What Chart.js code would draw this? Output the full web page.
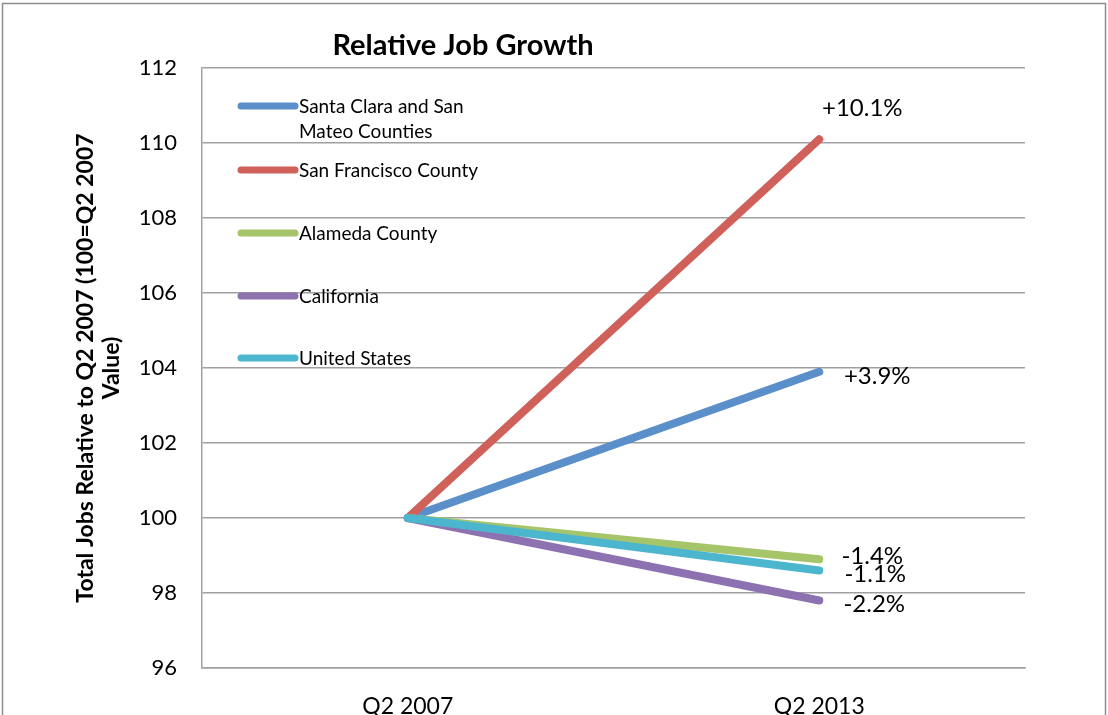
<!DOCTYPE html>
<html>
<head>
<meta charset="utf-8">
<script src="https://cdn.jsdelivr.net/npm/chart.js@4.4.1/dist/chart.umd.min.js"></script>
<style>
  html, body { margin: 0; padding: 0; background: #fff; }
  canvas { display: block; }
</style>
</head>
<body>
<canvas id="grafico" width="1108" height="715"></canvas>
<script>
const periodos = ['Q2 2007', 'Q2 2013'];
const nomesSeries = [['Santa Clara and San', 'Mateo Counties'], 'San Francisco County', 'Alameda County', 'California', 'United States'];
const santaClara = [100, 103.9];
const sanFrancisco = [100, 110.1];
const alameda = [100, 98.9];
const california = [100, 97.8];
const estadosUnidos = [100, 98.6];
const rotulosFinais = ['+3.9%', '+10.1%', '-1.4%', '-2.2%', '-1.1%'];
const cores = ['#5b8fc9', '#d0605a', '#a6c46a', '#8c72b0', '#4db6cf'];

const FONTE = 'Lato, "Open Sans", sans-serif';

// deslocamento dos rótulos em relação ao último ponto
const desloc = [[58, 5], [43, -31], [53, -3], [55, 4], [56, 4]];
const legendaY = [106, 170, 233, 296, 358];

const extras = {
  id: 'extras',
  afterDatasetsDraw(chart) {
    const c = chart.ctx;
    c.save();
    // rótulos finais
    c.font = '24px ' + FONTE;
    c.fillStyle = '#000';
    c.textAlign = 'center';
    c.textBaseline = 'middle';
    chart.data.datasets.forEach((ds, i) => {
      const pt = chart.getDatasetMeta(i).data[1];
      c.fillText(rotulosFinais[i], pt.x + desloc[i][0], pt.y + desloc[i][1]);
    });
    // legenda
    c.textAlign = 'left';
    c.font = '19px ' + FONTE;
    c.lineCap = 'round';
    c.lineWidth = 7;
    chart.data.datasets.forEach((ds, i) => {
      const y = legendaY[i];
      c.strokeStyle = ds.borderColor;
      c.beginPath();
      c.moveTo(241, y);
      c.lineTo(295, y);
      c.stroke();
      const nome = nomesSeries[i];
      if (Array.isArray(nome)) {
        nome.forEach((t, k) => c.fillText(t, 299, y + 1 + k * 25));
      } else {
        c.fillText(nome, 299, y + 1);
      }
    });
    // título
    c.font = 'bold 29px ' + FONTE;
    c.textAlign = 'center';
    c.fillText('Relative Job Growth', 463, 46);
    // moldura
    c.strokeStyle = '#8c8c8c';
    c.lineWidth = 1.5;
    c.strokeRect(2.5, 3.5, 1103, 740);
    c.restore();
  }
};

const series = [santaClara, sanFrancisco, alameda, california, estadosUnidos];

new Chart(document.getElementById('grafico'), {
  type: 'line',
  data: {
    labels: periodos,
    datasets: series.map((valores, i) => ({
      label: Array.isArray(nomesSeries[i]) ? nomesSeries[i].join(' ') : nomesSeries[i],
      data: valores,
      borderColor: cores[i],
      backgroundColor: cores[i],
      borderWidth: 8,
      borderCapStyle: 'round',
      pointRadius: 0,
      tension: 0,
      order: [4, 3, 2, 1, 0][i]
    }))
  },
  options: {
    responsive: false,
    animation: false,
    devicePixelRatio: 1,
    layout: { padding: { left: 72, top: 68, right: 83, bottom: 0 } },
    plugins: { legend: { display: false }, title: { display: false }, tooltip: { enabled: false } },
    scales: {
      x: {
        offset: true,
        grid: { display: false, drawTicks: false },
        border: { display: true, color: '#a0a0a0', width: 1.5 },
        ticks: { color: '#000', font: { family: FONTE, size: 23 }, padding: 25 },
        afterFit(s) { s.height = 47; }
      },
      y: {
        min: 96,
        max: 112,
        ticks: { stepSize: 2, color: '#000', font: { family: FONTE, size: 22 }, padding: 25 },
        grid: { color: '#a0a0a0', lineWidth: 1.5, drawTicks: false },
        border: { display: true, color: '#a0a0a0', width: 1.5 },
        title: {
          display: true,
          text: ['Total Jobs Relative to Q2 2007 (100=Q2 2007', 'Value)'],
          color: '#000',
          font: { family: FONTE, size: 23, weight: 'bold', lineHeight: 1.15 },
          padding: { top: 0, bottom: 0 }
        },
        afterFit(s) { s.width = 130; }
      }
    }
  },
  plugins: [extras]
});
</script>
</body>
</html>
